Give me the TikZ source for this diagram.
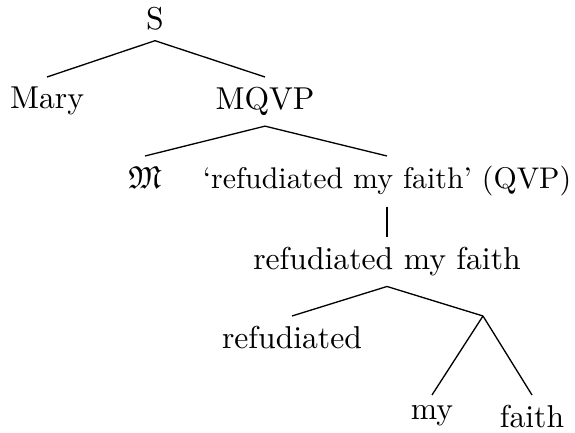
\documentclass[tikz,border=0pt]{standalone}
\usepackage{amssymb}
\usepackage{tikz}
\usetikzlibrary{positioning}
\tikzset{
    tnode/.style = {anchor=north, inner sep=3.33pt},
    tedge/.style = {draw=black, line width=0.45pt},
}

\begin{document}
\begin{tikzpicture}[
	x=0.012cm, y=-0.012cm,
	font=\fontsize{10.8}{13}\selectfont]
  \useasboundingbox (0,0) rectangle (575,433);
  \node (s) at (155,-3) [tnode] {S};
  \node (mary) at (47,77) [tnode] {Mary};
  \node (mqvp) at (265,77) [tnode] {MQVP};
  \node (frak) at (145,156) [tnode] {$\mathfrak{M}$};
  \node (qvp) at (387,156) [tnode,font=\fontsize{10.2}{13}\selectfont] {`refudiated my faith' (QVP)};
  \node (rmf) at (387,237) [tnode] {refudiated my faith};
  \node (refud) at (292,316) [tnode] {refudiated};
  \coordinate (myfaith) at (483,316);
  \node (my) at (432,395) [tnode] {my};
  \node (faith) at (532,395) [tnode] {faith};
  % branches
  \draw[tedge] (s.south) -- (mary.north);
  \draw[tedge] (s.south) -- (mqvp.north);
  \draw[tedge] (mqvp.south) -- (frak.north);
  \draw[tedge] (mqvp.south) -- (qvp.north);
  \draw[tedge] (qvp.south) -- (rmf.north);
  \draw[tedge] (rmf.south) -- (refud.north);
  \draw[tedge] (rmf.south) -- (myfaith);
  \draw[tedge] (myfaith) -- (my.north);
  \draw[tedge] (myfaith) -- (faith.north);
\end{tikzpicture}
\end{document}
